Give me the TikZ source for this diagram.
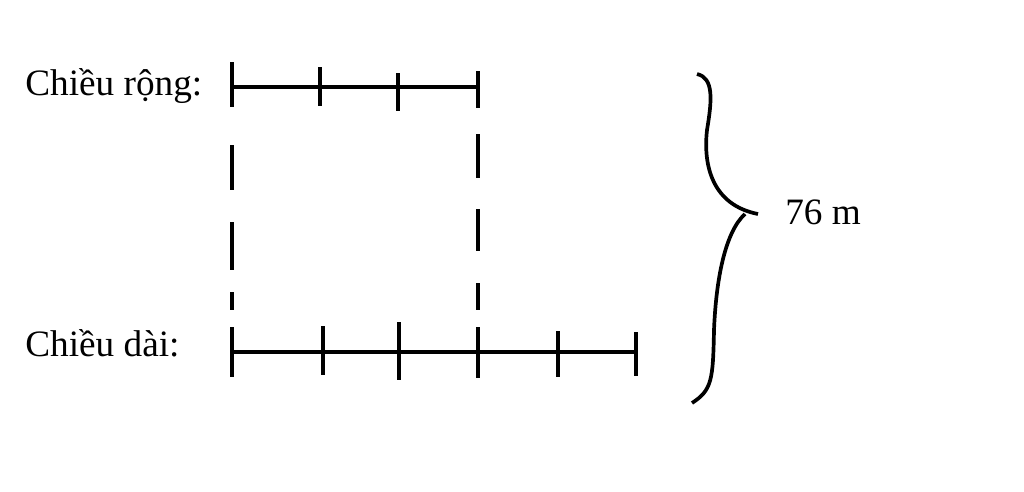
\documentclass[tikz,border=0pt]{standalone}
\usepackage{fontspec}
\setmainfont{Liberation Serif}
\begin{document}
\begin{tikzpicture}[x=0.02cm,y=-0.02cm,
    seg/.style={line width=2.1pt},
    tickmark/.style={line width=2.5pt},
    dashpart/.style={line width=2.5pt},
    lbl/.style={font=\fontsize{21.2}{25}\selectfont, inner sep=0pt, anchor=base west}]
    \useasboundingbox (0,0) rectangle (1024,491);
    % labels
    \node[lbl] (rong) at (25,95) {Chiều rộng:};
    \node[lbl] (dai) at (25,356) {Chiều dài:};
    \node[lbl] (total) at (785,224) {76 m};
    % width segment
    \coordinate (r0) at (232,87);
    \coordinate (r1) at (478,87);
    \draw[seg] (r0) -- (r1);
    \foreach \x/\a/\b in {232/62/107, 320/67/106, 398/73/111, 478/71/108}{
        \draw[tickmark] (\x,\a) -- (\x,\b);
    }
    % length segment
    \coordinate (d0) at (232,352);
    \coordinate (d1) at (636,352);
    \draw[seg] (d0) -- (d1);
    \foreach \x/\a/\b in {232/327/377, 323/326/375, 399/322/380, 478/327/378, 558/331/377, 636/332/376}{
        \draw[tickmark] (\x,\a) -- (\x,\b);
    }
    % dashed guides
    \foreach \a/\b in {145/190, 222/270, 292/310}{
        \draw[dashpart] (232,\a) -- (232,\b);
    }
    \foreach \a/\b in {134/178, 209/251, 283/310}{
        \draw[dashpart] (478,\a) -- (478,\b);
    }
    % brace
    \coordinate (btop) at (697,74);
    \coordinate (btip) at (758,214);
    \coordinate (bbot) at (692,403);
    \draw[seg] (btop) .. controls (714,78) and (712,100) .. (707,130)
        .. controls (703,165) and (712,205) .. (btip);
    \draw[seg] (745,214) .. controls (725,232) and (716,280) .. (714,330)
        .. controls (713,380) and (712,390) .. (bbot);
\end{tikzpicture}
\end{document}
